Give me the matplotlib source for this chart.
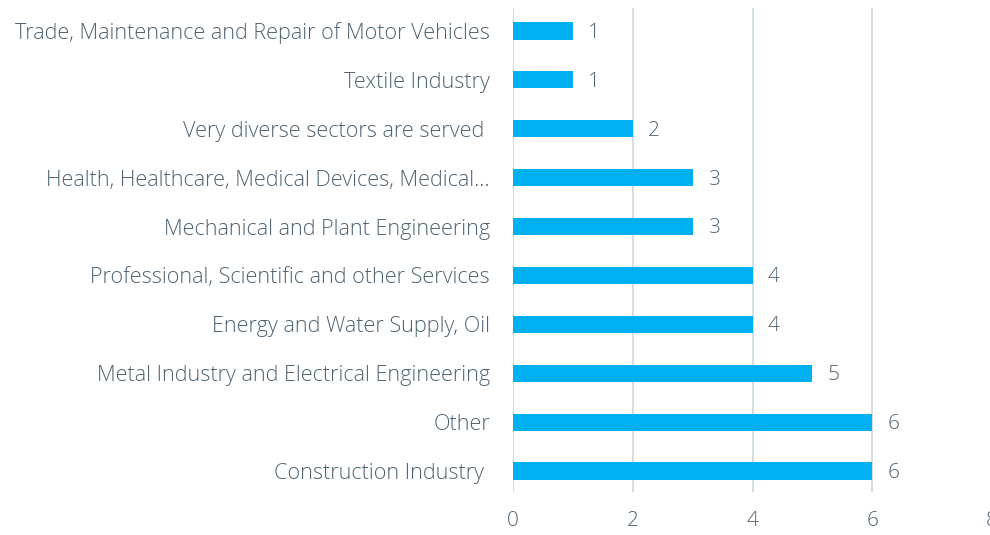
import numpy as np
import matplotlib as mpl
from matplotlib import pyplot as plt

mpl.rcParams.update({'font.size': 11,
                     'font.family': ['Open Sans', 'DejaVu Sans'],
                     'font.weight': 'light'})

sectors = ['Trade, Maintenance and Repair of Motor Vehicles',
           'Textile Industry',
           'Very diverse sectors are served ',
           'Health, Healthcare, Medical Devices, Medical\u2026',
           'Mechanical and Plant Engineering',
           'Professional, Scientific and other Services',
           'Energy and Water Supply, Oil',
           'Metal Industry and Electrical Engineering',
           'Other',
           'Construction Industry ']
counts = [1, 1, 2, 3, 3, 4, 4, 5, 6, 6]
xticks = [0, 2, 4, 6, 8]

text_color = '#4f6473'
bar_color = '#00b0f0'
grid_color = '#d3dfe5'

fig = plt.figure(figsize=(9.9, 5.35), dpi=100)
ax = fig.add_axes([513 / 990, 43 / 535, 479 / 990, 484 / 535])

y = np.arange(len(sectors))
ax.barh(y, counts, height=0.35, color=bar_color, zorder=3)
for yi, v in zip(y, counts):
    ax.text(v + 0.25, yi + 0.04, str(v), va='center', ha='left', fontsize=15,
            color=text_color, zorder=4)

ax.set_xlim(0, 8)
ax.set_ylim(9.43, -0.47)
ax.set_xticks(xticks)
ax.set_xticklabels([str(t) for t in xticks], fontsize=15, color=text_color)
ax.set_yticks(y)
ax.set_yticklabels(sectors, fontsize=15.6, color=text_color)
ax.tick_params(axis='both', length=0)
ax.tick_params(axis='x', pad=14)
ax.tick_params(axis='y', pad=16.5)
ax.xaxis.grid(True, color=grid_color, linewidth=1.5, zorder=0)
for s in ax.spines.values():
    s.set_visible(False)

plt.savefig('out.png', dpi=100)
plt.close()
